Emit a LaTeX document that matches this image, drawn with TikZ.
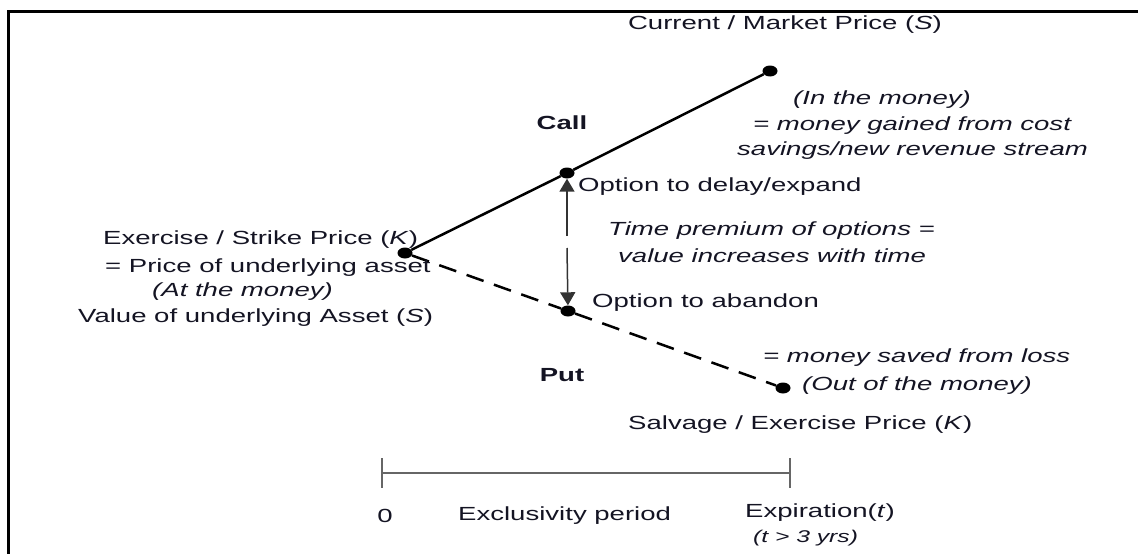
\documentclass[tikz,border=0pt]{standalone}
\usepackage{fontspec}
\setmainfont{Liberation Sans}[FakeStretch=1.45]
\usetikzlibrary{arrows.meta,shapes.geometric}
\definecolor{ink}{RGB}{20,20,35}
\tikzset{
  dot/.style={ellipse,fill=black,inner sep=0pt,minimum width=15pt,minimum height=11pt},
  lbl/.style={anchor=west,inner sep=0pt,text=ink},
  tick/.style={draw=black!60,line width=2pt},
  tip/.style={black!80,line width=1.5pt,-{Triangle[width=15pt,length=13pt]}}
}
\begin{document}
\begin{tikzpicture}[x=1pt,y=-1pt,font=\fontsize{19}{22}\selectfont,line cap=butt]
\useasboundingbox (0,0) rectangle (1138,554);
\draw[line width=3pt] (8,554) -- (8,11) -- (1138,11);
\node[dot] (K) at (405,253) {};
\node[dot] (D) at (567,173) {};
\node[dot] (C) at (770,71) {};
\node[dot] (A) at (568,311) {};
\node[dot] (P) at (783,388) {};
\draw[line width=2.5pt] (K) -- (D) -- (C);
\draw[line width=2.5pt,dash pattern=on 18pt off 11pt] (K) -- (A) -- (P);
\coordinate (m1) at (567,236);
\coordinate (m2) at (567,248);
\draw[tip] (m1) -- (D);
\draw[tip] (m2) -- (A);
\node[text=ink,inner sep=0pt] (cur) at (785,25) {Current / Market Price (\textit{S})};
\node[lbl] (itm) at (793,100) {\itshape (In the money)};
\node[lbl] (gain) at (753,126) {\itshape = money gained from cost};
\node[lbl] (sav) at (737,151) {\itshape savings/new revenue stream};
\node[text=ink,font=\fontsize{19}{22}\bfseries] (call) at (562,123) {Call};
\node[lbl] (dly) at (578,187) {Option to delay/expand};
\node[lbl] (tp) at (608,231) {\itshape Time premium of options =};
\node[lbl] (inc) at (618,256) {\itshape value increases with time};
\node[lbl] (abd) at (592,303) {Option to abandon};
\node[lbl] (ex) at (103,240) {Exercise / Strike Price (\textit{K})};
\node[lbl] (pr) at (105,268) {= Price of underlying asset};
\node[lbl] (atm) at (152,292) {\itshape (At the money)};
\node[lbl] (val) at (78,318) {Value of underlying Asset (\textit{S})};
\node[lbl] (svd) at (763,358) {\itshape = money saved from loss};
\node[lbl] (otm) at (802,386) {\itshape (Out of the money)};
\node[text=ink,font=\fontsize{19}{22}\bfseries] (put) at (562,375) {Put};
\node[lbl] (slv) at (628,425) {Salvage / Exercise Price (\textit{K})};
\coordinate (t0) at (382,473);
\coordinate (t1) at (790,473);
\draw[tick] (t0) -- (t1);
\draw[tick] ([yshift=15pt]t0) -- ([yshift=-15pt]t0);
\draw[tick] ([yshift=15pt]t1) -- ([yshift=-15pt]t1);
\node[text=ink] (zero) at (385,516) {0};
\node[lbl] (excl) at (458,516) {Exclusivity period};
\node[lbl] (expn) at (745,513) {Expiration(\textit{t})};
\node[lbl,font=\fontsize{17}{19}\selectfont] (yrs) at (753,538) {\itshape (t > 3 yrs)};
\end{tikzpicture}
\end{document}
